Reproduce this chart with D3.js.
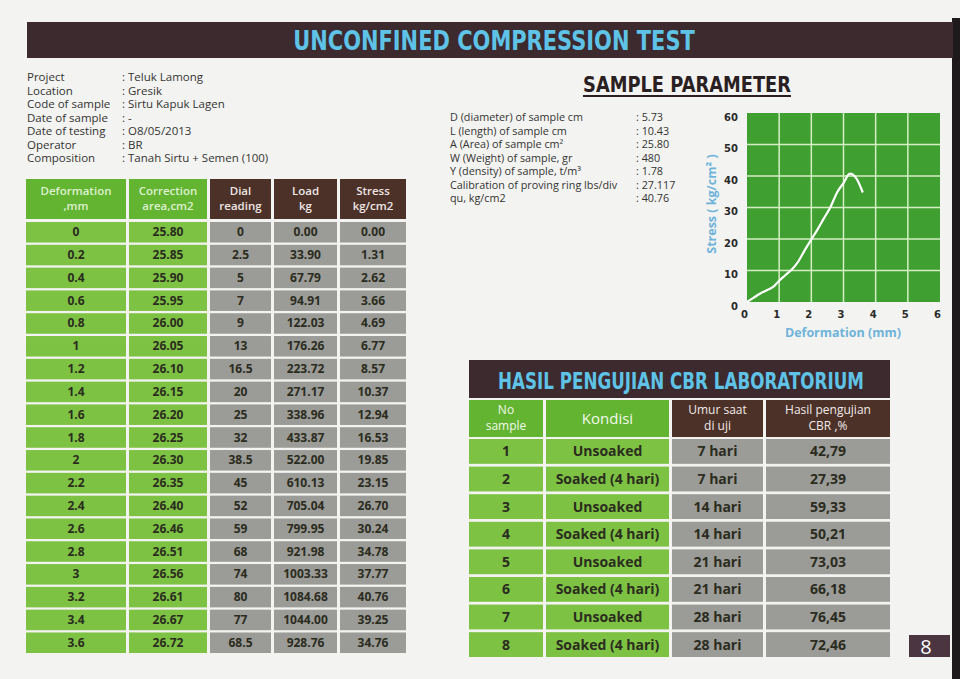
<!DOCTYPE html>
<html>
<head>
<meta charset="utf-8">
<script src="https://cdn.jsdelivr.net/npm/d3@7"></script>
<style>
  body { margin: 0; background: #f3f3f1; }
  svg { display: block; font-family: "Open Sans", "DejaVu Sans", sans-serif; }
</style>
</head>
<body>
<svg width="960" height="679"></svg>
<script>
// page data
const infoLabels = ["Project", "Location", "Code of sample", "Date of sample", "Date of testing", "Operator", "Composition"];
const infoValues = [": Teluk Lamong", ": Gresik", ": Sirtu Kapuk Lagen", ": -", ": O8/05/2013", ": BR", ": Tanah Sirtu + Semen (100)"];

const paramLabels = ["D (diameter) of sample cm", "L (length) of sample cm", "A (Area) of sample cm²", "W (Weight) of sample, gr",
  "Y (density) of sample, t/m³", "Calibration of proving ring lbs/div", "qu, kg/cm2"];
const paramValues = [": 5.73", ": 10.43", ": 25.80", ": 480", ": 1.78", ": 27.117", ": 40.76"];

const testHeaders = [["Deformation", ",mm"], ["Correction", "area,cm2"], ["Dial", "reading"], ["Load", "kg"], ["Stress", "kg/cm2"]];
const deformation = [0, 0.2, 0.4, 0.6, 0.8, 1, 1.2, 1.4, 1.6, 1.8, 2, 2.2, 2.4, 2.6, 2.8, 3, 3.2, 3.4, 3.6];
const correctionArea = [25.80, 25.85, 25.90, 25.95, 26.00, 26.05, 26.10, 26.15, 26.20, 26.25, 26.30, 26.35, 26.40, 26.46, 26.51, 26.56, 26.61, 26.67, 26.72];
const dialReading = [0, 2.5, 5, 7, 9, 13, 16.5, 20, 25, 32, 38.5, 45, 52, 59, 68, 74, 80, 77, 68.5];
const load = [0.00, 33.90, 67.79, 94.91, 122.03, 176.26, 223.72, 271.17, 338.96, 433.87, 522.00, 610.13, 705.04, 799.95, 921.98, 1003.33, 1084.68, 1044.00, 928.76];
const stress = [0.00, 1.31, 2.62, 3.66, 4.69, 6.77, 8.57, 10.37, 12.94, 16.53, 19.85, 23.15, 26.70, 30.24, 34.78, 37.77, 40.76, 39.25, 34.76];

const cbrHeaders = [["No", "sample"], ["Kondisi"], ["Umur saat", "di uji"], ["Hasil pengujian", "CBR ,%"]];
const cbrNo = [1, 2, 3, 4, 5, 6, 7, 8];
const cbrKondisi = ["Unsoaked", "Soaked (4 hari)", "Unsoaked", "Soaked (4 hari)", "Unsoaked", "Soaked (4 hari)", "Unsoaked", "Soaked (4 hari)"];
const cbrUmur = ["7 hari", "7 hari", "14 hari", "14 hari", "21 hari", "21 hari", "28 hari", "28 hari"];
const cbrHasil = ["42,79", "27,39", "59,33", "50,21", "73,03", "66,18", "76,45", "72,46"];

const xTicks = [0, 1, 2, 3, 4, 5, 6];
const yTicks = [0, 10, 20, 30, 40, 50, 60];

const svg = d3.select("svg");
const DARK = "#3c2a2e", BROWN = "#4b3127", GREEN_H = "#62b431", GREEN = "#7dc243", GREY = "#9b9b97", BLUE = "#5ec3e6";
const CELL_TXT = "#2b2c20";

// scan edge on the right
svg.append("rect").attr("x", 952).attr("y", 18).attr("width", 8).attr("height", 661).attr("fill", "#1e1a1c");

// condensed headline text: squeezed horizontally to the width seen on the page
function headline(cx, cy, size, width, colour, txt) {
  const g = svg.append("g");
  const t = g.append("text").attr("x", 0).attr("y", 0).attr("text-anchor", "middle")
    .attr("font-family", "'DejaVu Sans', sans-serif").attr("font-weight", "bold").attr("font-size", size)
    .attr("fill", colour).text(txt);
  const natural = t.node().getComputedTextLength();
  g.attr("transform", "translate(" + cx + "," + cy + ") scale(" + (width / natural) + ",1)");
  return g;
}

// --- title bar ---
svg.append("rect").attr("x", 27).attr("y", 22).attr("width", 926).attr("height", 36).attr("fill", DARK);
headline(494, 50, 27, 402, BLUE, "UNCONFINED COMPRESSION TEST");

// --- project info ---
const info = svg.append("g").attr("font-size", 11.5).attr("fill", "#333");
infoLabels.forEach(function(d, i) {
  info.append("text").attr("x", 27).attr("y", 81 + i * 13.5).text(d);
  info.append("text").attr("x", 122).attr("y", 81 + i * 13.5).text(infoValues[i]);
});

// --- sample parameter ---
headline(687, 92, 21, 208, "#2a2022", "SAMPLE PARAMETER");
svg.append("line").attr("x1", 583).attr("x2", 791).attr("y1", 96).attr("y2", 96)
  .attr("stroke", "#2a2022").attr("stroke-width", 2);

const params = svg.append("g").attr("font-size", 10.8).attr("fill", "#333");
paramLabels.forEach(function(d, i) {
  params.append("text").attr("x", 450).attr("y", 121 + i * 13.5).text(d);
  params.append("text").attr("x", 636).attr("y", 121 + i * 13.5).text(paramValues[i]);
});

// --- stress / deformation chart ---
const x = d3.scaleLinear().domain([0, 6]).range([747, 940]);
const y = d3.scaleLinear().domain([0, 60]).range([302, 113]);

svg.append("rect").attr("x", x(0)).attr("y", y(60)).attr("width", x(6) - x(0)).attr("height", y(0) - y(60))
  .attr("fill", "#3f9f31");

const grid = svg.append("g").attr("stroke", "#d6efc4").attr("stroke-width", 1.5);
grid.selectAll("line.v").data(xTicks.slice(1, -1)).join("line").attr("class", "v")
  .attr("x1", d => x(d)).attr("x2", d => x(d)).attr("y1", y(60)).attr("y2", y(0));
grid.selectAll("line.h").data(yTicks.slice(1, -1)).join("line").attr("class", "h")
  .attr("x1", x(0)).attr("x2", x(6)).attr("y1", d => y(d)).attr("y2", d => y(d));

const xAxis = svg.append("g").attr("transform", "translate(-3," + (y(0) + 6) + ")")
  .call(d3.axisBottom(x).tickValues(xTicks).tickSize(0).tickFormat(d3.format("d")));
const yAxis = svg.append("g").attr("transform", "translate(" + (x(0) - 6) + ",4)")
  .call(d3.axisLeft(y).tickValues(yTicks).tickSize(0).tickFormat(d3.format("d")));
[xAxis, yAxis].forEach(function(a) {
  a.select(".domain").remove();
  a.selectAll("text").attr("font-family", "'DejaVu Sans', sans-serif").attr("font-weight", "bold")
    .attr("font-size", 10).attr("fill", "#2a2a2a");
});

svg.append("text").attr("x", 843).attr("y", 337).attr("text-anchor", "middle")
  .attr("font-weight", "bold").attr("font-size", 12.5).attr("fill", "#6fb3da").text("Deformation (mm)");
svg.append("text").attr("transform", "translate(716,204) rotate(-90)").attr("text-anchor", "middle")
  .attr("font-weight", "bold").attr("font-size", 12.5).attr("fill", "#6fb3da").text("Stress ( kg/cm² )");

const line = d3.line().x((d, i) => x(deformation[i])).y(d => y(d)).curve(d3.curveMonotoneX);
svg.append("path").datum(stress).attr("d", line).attr("fill", "none")
  .attr("stroke", "#ffffff").attr("stroke-width", 2.2);

// --- test table ---
const colX = [26, 129, 210, 274, 340];
const colW = [100, 78, 61, 63, 66];
const rowY = d3.scaleBand().domain(d3.range(deformation.length)).range([222, 653]).paddingInner(0.1);

const tHead = svg.append("g");
testHeaders.forEach(function(h, c) {
  const green = c < 2;
  tHead.append("rect").attr("x", colX[c]).attr("y", 179).attr("width", colW[c]).attr("height", 40)
    .attr("fill", green ? GREEN_H : BROWN);
  h.forEach(function(t, k) {
    tHead.append("text").attr("x", colX[c] + colW[c] / 2).attr("y", 195 + k * 15).attr("text-anchor", "middle")
      .attr("font-size", 11.5).attr("font-weight", "600").attr("fill", green ? "#dff1cf" : "#efe6e6").text(t);
  });
});

const tableCols = [
  deformation.map(d => String(d)),
  correctionArea.map(d => d.toFixed(2)),
  dialReading.map(d => String(d)),
  load.map(d => d.toFixed(2)),
  stress.map(d => d.toFixed(2))
];
const tBody = svg.append("g").attr("font-size", 12).attr("font-weight", "bold").attr("fill", CELL_TXT);
tableCols.forEach(function(col, c) {
  tBody.selectAll("rect.c" + c).data(col).join("rect").attr("class", "c" + c)
    .attr("x", colX[c]).attr("y", (d, i) => rowY(i)).attr("width", colW[c]).attr("height", rowY.bandwidth())
    .attr("fill", c < 2 ? GREEN : GREY);
  tBody.selectAll("text.c" + c).data(col).join("text").attr("class", "c" + c)
    .attr("x", colX[c] + colW[c] / 2).attr("y", (d, i) => rowY(i) + rowY.bandwidth() / 2 + 4)
    .attr("text-anchor", "middle").attr("fill", CELL_TXT).text(d => d);
});

// --- CBR table ---
svg.append("rect").attr("x", 469).attr("y", 360).attr("width", 421).attr("height", 38).attr("fill", DARK);
headline(681, 389, 23, 366, BLUE, "HASIL PENGUJIAN CBR LABORATORIUM");

const cX = [469, 546, 672, 766];
const cW = [74, 123, 91, 124];
const cbrRow = d3.scaleBand().domain(d3.range(cbrNo.length)).range([439, 657]).paddingInner(0.1);

cbrHeaders.forEach(function(h, c) {
  const green = c < 2;
  svg.append("rect").attr("x", cX[c]).attr("y", 400).attr("width", cW[c]).attr("height", 37)
    .attr("fill", green ? GREEN_H : BROWN);
  h.forEach(function(t, k) {
    svg.append("text").attr("x", cX[c] + cW[c] / 2)
      .attr("y", h.length === 1 ? 424 : 414 + k * 16).attr("text-anchor", "middle")
      .attr("font-size", h.length === 1 ? 15 : 12).attr("fill", green ? "#f2f8ec" : "#f2eaea").text(t);
  });
});

const cbrCols = [cbrNo.map(String), cbrKondisi, cbrUmur, cbrHasil];
const cBody = svg.append("g").attr("font-size", 14).attr("font-weight", "bold");
cbrCols.forEach(function(col, c) {
  cBody.selectAll("rect.k" + c).data(col).join("rect").attr("class", "k" + c)
    .attr("x", cX[c]).attr("y", (d, i) => cbrRow(i)).attr("width", cW[c]).attr("height", cbrRow.bandwidth())
    .attr("fill", c < 2 ? GREEN : GREY);
  cBody.selectAll("text.k" + c).data(col).join("text").attr("class", "k" + c)
    .attr("x", cX[c] + cW[c] / 2).attr("y", (d, i) => cbrRow(i) + cbrRow.bandwidth() / 2 + 5)
    .attr("text-anchor", "middle").attr("fill", CELL_TXT).text(d => d);
});

// page number
svg.append("rect").attr("x", 909).attr("y", 635).attr("width", 41).attr("height", 22).attr("fill", "#4a3540");
svg.append("text").attr("x", 926).attr("y", 654).attr("text-anchor", "middle")
  .attr("font-size", 20).attr("fill", "#ffffff").text("8");
</script>
</body>
</html>
